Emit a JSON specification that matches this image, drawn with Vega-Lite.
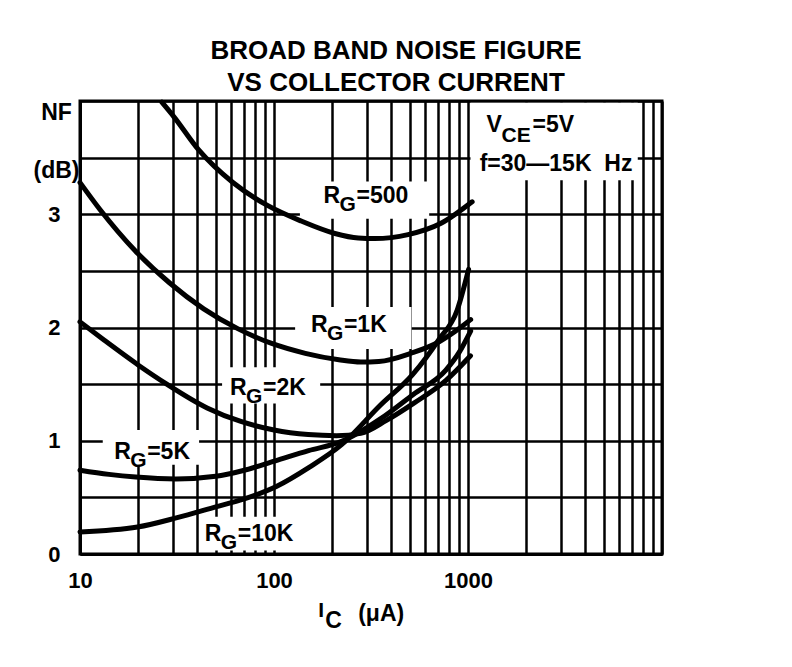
{
  "$schema": "https://vega.github.io/schema/vega-lite/v6.json",
  "width": 582,
  "height": 453,
  "autosize": {"type": "none"},
  "padding": {"left": 80, "top": 101, "right": 130, "bottom": 113},
  "background": "white",
  "config": {
    "view": {"stroke": "black", "strokeWidth": 3},
    "font": "Liberation Sans"
  },
  "title": {
    "text": ["BROAD BAND NOISE FIGURE", "VS COLLECTOR CURRENT"],
    "font": "Liberation Sans",
    "fontSize": 26,
    "fontWeight": "bold",
    "lineHeight": 32,
    "color": "black",
    "anchor": "middle",
    "dx": 25,
    "offset": -6
  },
  "datasets": {
    "curves": [
      {"rg": "500", "I": 26.4, "nf": 3.99},
      {"rg": "500", "I": 30.5, "nf": 3.86},
      {"rg": "500", "I": 40.8, "nf": 3.57},
      {"rg": "500", "I": 61.4, "nf": 3.28},
      {"rg": "500", "I": 92, "nf": 3.08},
      {"rg": "500", "I": 138, "nf": 2.94},
      {"rg": "500", "I": 206, "nf": 2.83},
      {"rg": "500", "I": 272, "nf": 2.79},
      {"rg": "500", "I": 331, "nf": 2.785},
      {"rg": "500", "I": 491, "nf": 2.82},
      {"rg": "500", "I": 726, "nf": 2.92},
      {"rg": "500", "I": 1050, "nf": 3.11},
      {"rg": "1K", "I": 10, "nf": 3.28},
      {"rg": "1K", "I": 12.7, "nf": 3.04},
      {"rg": "1K", "I": 19.2, "nf": 2.68},
      {"rg": "1K", "I": 28.9, "nf": 2.395},
      {"rg": "1K", "I": 43.4, "nf": 2.165},
      {"rg": "1K", "I": 65, "nf": 1.99},
      {"rg": "1K", "I": 97.3, "nf": 1.859},
      {"rg": "1K", "I": 145, "nf": 1.772},
      {"rg": "1K", "I": 216, "nf": 1.715},
      {"rg": "1K", "I": 280, "nf": 1.695},
      {"rg": "1K", "I": 347, "nf": 1.7},
      {"rg": "1K", "I": 513, "nf": 1.775},
      {"rg": "1K", "I": 703, "nf": 1.87},
      {"rg": "1K", "I": 857, "nf": 1.965},
      {"rg": "1K", "I": 1032, "nf": 2.07},
      {"rg": "2K", "I": 10, "nf": 2.05},
      {"rg": "2K", "I": 13.4, "nf": 1.885},
      {"rg": "2K", "I": 20.1, "nf": 1.665},
      {"rg": "2K", "I": 28, "nf": 1.5},
      {"rg": "2K", "I": 45.2, "nf": 1.29},
      {"rg": "2K", "I": 67.5, "nf": 1.17},
      {"rg": "2K", "I": 100, "nf": 1.095},
      {"rg": "2K", "I": 150, "nf": 1.055},
      {"rg": "2K", "I": 210, "nf": 1.045},
      {"rg": "2K", "I": 280, "nf": 1.065},
      {"rg": "2K", "I": 380, "nf": 1.18},
      {"rg": "2K", "I": 524, "nf": 1.33},
      {"rg": "2K", "I": 773, "nf": 1.535},
      {"rg": "2K", "I": 1030, "nf": 1.75},
      {"rg": "5K", "I": 10, "nf": 0.74},
      {"rg": "5K", "I": 14.1, "nf": 0.703},
      {"rg": "5K", "I": 19.4, "nf": 0.679},
      {"rg": "5K", "I": 31.2, "nf": 0.662},
      {"rg": "5K", "I": 50.1, "nf": 0.686},
      {"rg": "5K", "I": 68.7, "nf": 0.735},
      {"rg": "5K", "I": 101.6, "nf": 0.823},
      {"rg": "5K", "I": 150.7, "nf": 0.913},
      {"rg": "5K", "I": 223, "nf": 0.994},
      {"rg": "5K", "I": 355, "nf": 1.195},
      {"rg": "5K", "I": 522, "nf": 1.409},
      {"rg": "5K", "I": 769, "nf": 1.624},
      {"rg": "5K", "I": 900, "nf": 1.78},
      {"rg": "5K", "I": 1032, "nf": 1.969},
      {"rg": "10K", "I": 10, "nf": 0.195},
      {"rg": "10K", "I": 19.8, "nf": 0.238},
      {"rg": "10K", "I": 31.7, "nf": 0.321},
      {"rg": "10K", "I": 50.7, "nf": 0.419},
      {"rg": "10K", "I": 69.5, "nf": 0.484},
      {"rg": "10K", "I": 102.8, "nf": 0.596},
      {"rg": "10K", "I": 151.7, "nf": 0.765},
      {"rg": "10K", "I": 223, "nf": 0.965},
      {"rg": "10K", "I": 353, "nf": 1.313},
      {"rg": "10K", "I": 519, "nf": 1.586},
      {"rg": "10K", "I": 703, "nf": 1.887},
      {"rg": "10K", "I": 881, "nf": 2.157},
      {"rg": "10K", "I": 1007, "nf": 2.513}
    ],
    "masks": [
      {"I": 136, "I2": 631, "nf": 2.96, "nf2": 3.29},
      {"I": 128.5, "I2": 511, "nf": 1.81, "nf2": 2.18},
      {"I": 54, "I2": 173, "nf": 1.33, "nf2": 1.65},
      {"I": 13.1, "I2": 41.1, "nf": 0.787, "nf2": 1.096},
      {"I": 42, "I2": 145, "nf": 0.03, "nf2": 0.33},
      {"I": 1030, "I2": 7500, "nf": 3.3, "nf2": 3.985}
    ],
    "rglabels": [
      {"I": 180, "nf": 3.1, "val": "=500"},
      {"I": 155, "nf": 1.956, "val": "=1K"},
      {"I": 59.3, "nf": 1.407, "val": "=2K"},
      {"I": 15, "nf": 0.839, "val": "=5K"},
      {"I": 44, "nf": 0.118, "val": "=10K"}
    ],
    "vce": [{"I": 1245, "nf": 3.722}],
    "freq": [{"I": 1148, "nf": 3.385, "t": "f=30—15K\u00a0 Hz"}],
    "xtitle": [{"I": 169, "nf": -0.556}]
  },
  "encoding": {
    "x": {
      "field": "I",
      "type": "quantitative",
      "scale": {"type": "log", "domain": [10, 10000]},
      "axis": {
        "values": [10, 20, 30, 40, 50, 60, 70, 80, 90, 100, 200, 300, 400, 500, 600, 700, 800, 900, 1000, 2000, 3000, 4000, 5000, 6000, 7000, 8000, 9000, 10000],
        "labelExpr": "datum.value == 10 || datum.value == 100 || datum.value == 1000 ? format(datum.value, 'd') : ''",
        "grid": true,
        "gridColor": "black",
        "gridWidth": 2.5,
        "gridOpacity": 1,
        "ticks": false,
        "domain": true,
        "domainColor": "black",
        "domainWidth": 3,
        "labelFont": "Liberation Sans",
        "labelFontSize": 22,
        "labelFontWeight": "bold",
        "labelColor": "black",
        "labelPadding": 16,
        "labelOverlap": false,
        "labelFlush": false,
        "labelBound": false,
        "title": null
      }
    },
    "y": {
      "field": "nf",
      "type": "quantitative",
      "scale": {"domain": [0, 4]},
      "axis": {
        "values": [0, 0.5, 1, 1.5, 2, 2.5, 3, 3.5, 4],
        "labelExpr": "datum.value == 0 || datum.value == 1 || datum.value == 2 || datum.value == 3 ? format(datum.value, 'd') : ''",
        "grid": true,
        "gridColor": "black",
        "gridWidth": 2.5,
        "gridOpacity": 1,
        "ticks": false,
        "domain": true,
        "domainColor": "black",
        "domainWidth": 3,
        "labelFont": "Liberation Sans",
        "labelFontSize": 22,
        "labelFontWeight": "bold",
        "labelColor": "black",
        "labelPadding": 20,
        "labelOverlap": false,
        "labelFlush": false,
        "labelBound": false,
        "title": ["NF", "(dB)"],
        "titleAngle": 0,
        "titleAlign": "center",
        "titleBaseline": "top",
        "titleX": -24,
        "titleY": 0,
        "titleLineHeight": 58,
        "titleFont": "Liberation Sans",
        "titleFontSize": 23,
        "titleFontWeight": "bold",
        "titleColor": "black"
      }
    }
  },
  "layer": [
    {
      "data": {"name": "masks"},
      "mark": {"type": "rect", "fill": "white"},
      "encoding": {"x2": {"field": "I2"}, "y2": {"field": "nf2"}}
    },
    {
      "data": {"name": "curves"},
      "mark": {"type": "line", "color": "black", "strokeWidth": 5, "interpolate": "monotone", "strokeCap": "round"},
      "encoding": {"detail": {"field": "rg", "type": "nominal"}}
    },
    {
      "data": {"name": "rglabels"},
      "mark": {"type": "text", "text": "R", "align": "left", "baseline": "alphabetic", "font": "Liberation Sans", "fontSize": 23, "fontWeight": "bold", "color": "black"}
    },
    {
      "data": {"name": "rglabels"},
      "mark": {"type": "text", "text": "G", "align": "left", "baseline": "alphabetic", "dx": 16, "dy": 8, "font": "Liberation Sans", "fontSize": 21, "fontWeight": "bold", "color": "black"}
    },
    {
      "data": {"name": "rglabels"},
      "mark": {"type": "text", "align": "left", "baseline": "alphabetic", "dx": 33, "font": "Liberation Sans", "fontSize": 23, "fontWeight": "bold", "color": "black"},
      "encoding": {"text": {"field": "val", "type": "nominal"}}
    },
    {
      "data": {"name": "vce"},
      "mark": {"type": "text", "text": "V", "align": "left", "baseline": "alphabetic", "font": "Liberation Sans", "fontSize": 23, "fontWeight": "bold", "color": "black"}
    },
    {
      "data": {"name": "vce"},
      "mark": {"type": "text", "text": "CE", "align": "left", "baseline": "alphabetic", "dx": 15, "dy": 10, "font": "Liberation Sans", "fontSize": 21, "fontWeight": "bold", "color": "black"}
    },
    {
      "data": {"name": "vce"},
      "mark": {"type": "text", "text": "=5V", "align": "left", "baseline": "alphabetic", "dx": 46, "font": "Liberation Sans", "fontSize": 23, "fontWeight": "bold", "color": "black"}
    },
    {
      "data": {"name": "freq"},
      "mark": {"type": "text", "align": "left", "baseline": "alphabetic", "font": "Liberation Sans", "fontSize": 23, "fontWeight": "bold", "color": "black"},
      "encoding": {"text": {"field": "t", "type": "nominal"}}
    },
    {
      "data": {"name": "xtitle"},
      "mark": {"type": "text", "text": "I", "align": "left", "baseline": "alphabetic", "font": "Liberation Sans", "fontSize": 21, "fontWeight": "bold", "color": "black"}
    },
    {
      "data": {"name": "xtitle"},
      "mark": {"type": "text", "text": "C", "align": "left", "baseline": "alphabetic", "dx": 7, "dy": 11, "font": "Liberation Sans", "fontSize": 23, "fontWeight": "bold", "color": "black"}
    },
    {
      "data": {"name": "xtitle"},
      "mark": {"type": "text", "text": "(μA)", "align": "left", "baseline": "alphabetic", "dx": 40, "dy": 4, "font": "Liberation Sans", "fontSize": 23, "fontWeight": "bold", "color": "black"}
    }
  ]
}
